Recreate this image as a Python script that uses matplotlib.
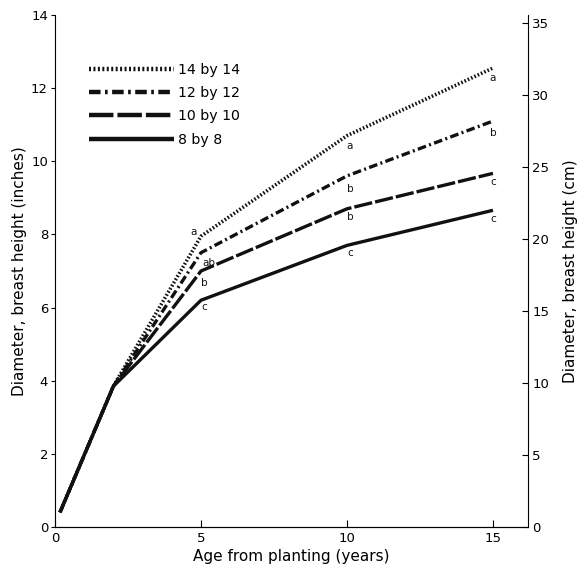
"""
Stem diameter vs. age for four planting spacings (inches, with cm on the right axis).
"""
import matplotlib
matplotlib.use("Agg")
import matplotlib.pyplot as plt

# ---------- data ----------
years = [0.17, 2, 5, 10, 15]
spacings = ["14 by 14", "12 by 12", "10 by 10", "8 by 8"]
dbh_14 = [0.4, 3.85, 7.95, 10.7, 12.55]
dbh_12 = [0.4, 3.85, 7.5, 9.6, 11.1]
dbh_10 = [0.4, 3.85, 7.0, 8.7, 9.67]
dbh_8 = [0.4, 3.85, 6.2, 7.7, 8.66]
# significance letters at years 5, 10, 15
letter_years = [5, 10, 15]
sig_14 = ["a", "a", "a"]
sig_12 = ["ab", "b", "b"]
sig_10 = ["b", "b", "c"]
sig_8 = ["c", "c", "c"]

INCH_TO_CM = 2.54

# ---------- styles ----------
styles = [
    dict(ls=(0, (0.45, 0.55)), lw=2.6),          # dotted
    dict(ls=(0, (2.6, 1.0, 0.6, 1.0)), lw=2.4),  # dash-dot
    dict(ls=(0, (5.5, 0.9)), lw=2.4),            # long dash
    dict(ls="-", lw=2.4),                         # solid
]
# letter offsets (pixels) for year 5, 10, 15 per series
offsets = [
    [(-7, 4), (3, -10), (0, -10)],
    [(8, -10), (3, -13), (0, -12)],
    [(3, -12), (3, -8), (0, -9)],
    [(3, -7), (3, -8), (0, -9)],
]

fig = plt.figure(figsize=(5.87, 5.73), dpi=100)
ax = fig.add_axes([55/587, 1-527/573, (528-55)/587, (527-15)/573])

series = [dbh_14, dbh_12, dbh_10, dbh_8]
sigs = [sig_14, sig_12, sig_10, sig_8]
# draw solid first so the shared early segment looks solid
for i in [3, 2, 1, 0]:
    ax.plot(years, series[i], color="#111111", label=spacings[i],
            solid_capstyle="butt", dash_capstyle="butt", **styles[i])
    for j, yr in enumerate(letter_years):
        k = years.index(yr)
        ax.annotate(sigs[i][j], (yr, series[i][k]), xytext=offsets[i][j],
                    textcoords="offset pixels", ha="center", va="center",
                    fontsize=7.5, color="#111111")

ax.set_xlim(0, 16.2)
ax.set_ylim(0, 14)
ax.set_xticks([0, 5, 10, 15])
ax.set_yticks(range(0, 15, 2))
ax.spines["top"].set_visible(False)
ax.spines["right"].set_visible(False)
ax.tick_params(axis="x", direction="in", length=5, labelsize=9.5)
ax.tick_params(axis="y", direction="out", length=3, labelsize=9.5, pad=2)
ax.set_xlabel("Age from planting (years)", fontsize=11, labelpad=3)
ax.set_ylabel("Diameter, breast height (inches)", fontsize=11, labelpad=3)

ax2 = ax.twinx()
ax2.set_ylim(0, 14 * INCH_TO_CM)
ax2.set_yticks(range(0, 36, 5))
ax2.spines["top"].set_visible(False)
ax2.spines["left"].set_visible(False)
ax2.tick_params(axis="y", direction="in", length=4, labelsize=9.5, pad=3)
ax2.set_ylabel("Diameter, breast height (cm)", fontsize=11, labelpad=10)

# legend in spacing order (widest first)
h, l = ax.get_legend_handles_labels()
order = [l.index(s) for s in spacings]
leg = ax.legend([h[o] for o in order], [l[o] for o in order],
                loc="upper left", bbox_to_anchor=(0.06, 0.918), frameon=False,
                handlelength=6.0, handletextpad=0.3, labelspacing=0.66,
                fontsize=10.2, borderaxespad=0)
for line in leg.get_lines():
    line.set_linewidth(3.2)

fig.savefig("out.png", dpi=100)
